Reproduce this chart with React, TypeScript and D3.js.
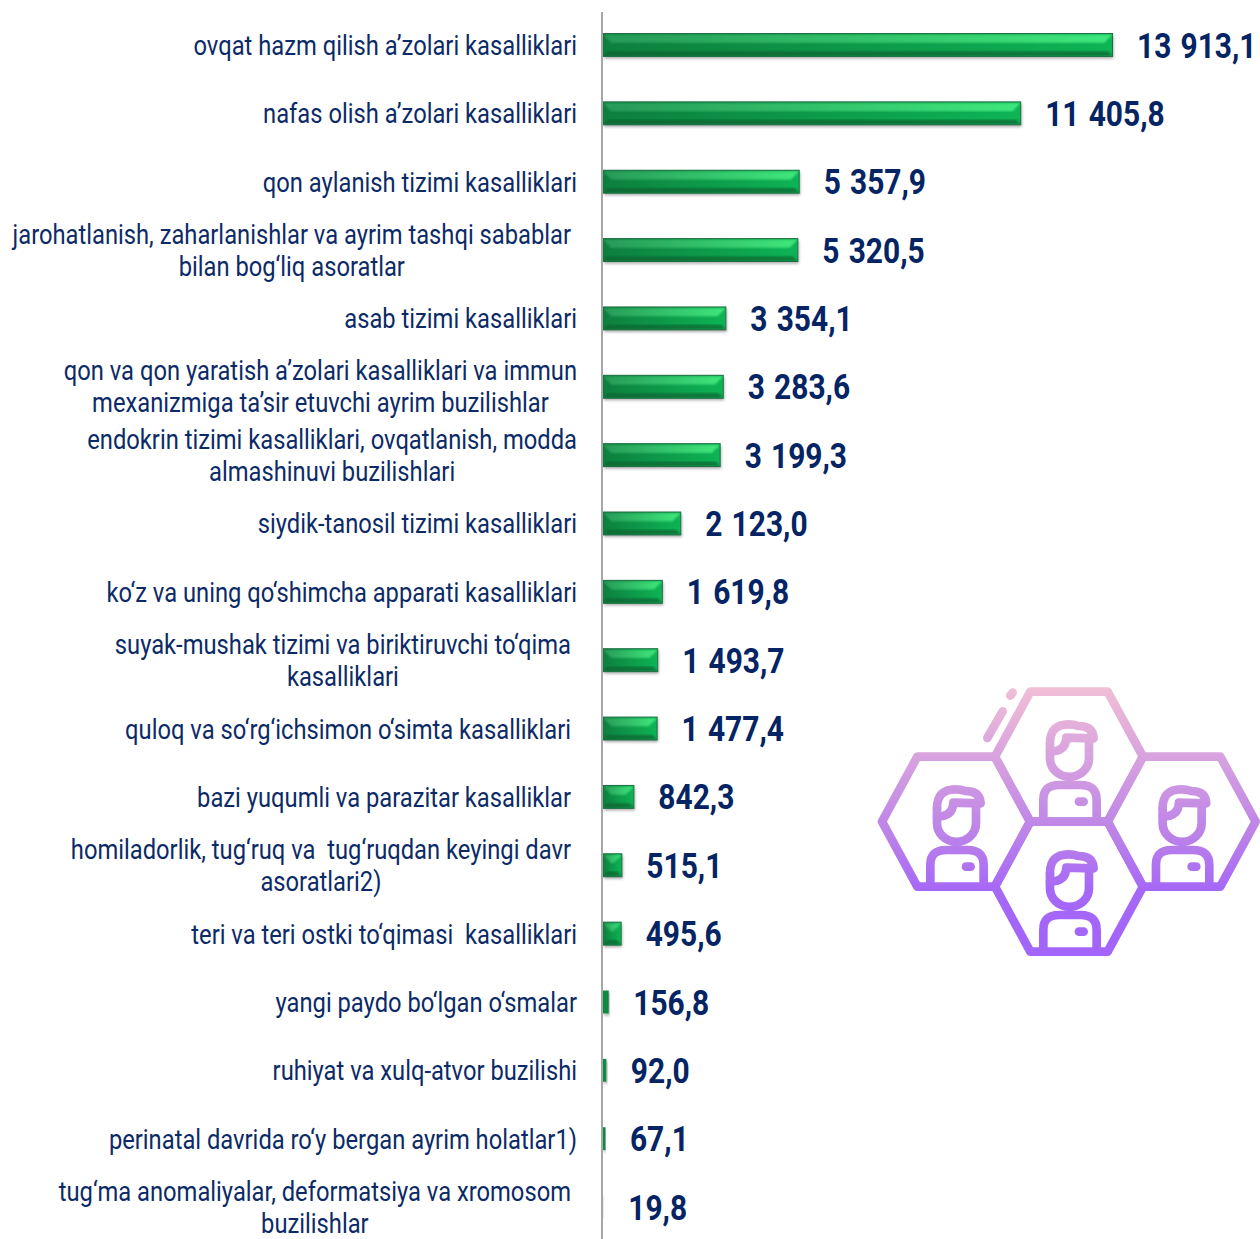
import * as d3 from "d3";
import { useEffect, useRef } from "react";

const labels: string[][] = [
  ["ovqat hazm qilish a’zolari kasalliklari"],
  ["nafas olish a’zolari kasalliklari"],
  ["qon aylanish tizimi kasalliklari"],
  ["jarohatlanish, zaharlanishlar va ayrim tashqi sabablar", "bilan bog‘liq asoratlar"],
  ["asab tizimi kasalliklari"],
  ["qon va qon yaratish a’zolari kasalliklari va immun", "mexanizmiga ta’sir etuvchi ayrim buzilishlar"],
  ["endokrin tizimi kasalliklari, ovqatlanish, modda", "almashinuvi buzilishlari"],
  ["siydik-tanosil tizimi kasalliklari"],
  ["ko‘z va uning qo‘shimcha apparati kasalliklari"],
  ["suyak-mushak tizimi va biriktiruvchi to‘qima", "kasalliklari"],
  ["quloq va so‘rg‘ichsimon o‘simta kasalliklari"],
  ["bazi yuqumli va parazitar kasalliklar"],
  ["homiladorlik, tug‘ruq va  tug‘ruqdan keyingi davr", "asoratlari2)"],
  ["teri va teri ostki to‘qimasi  kasalliklari"],
  ["yangi paydo bo‘lgan o‘smalar"],
  ["ruhiyat va xulq-atvor buzilishi"],
  ["perinatal davrida ro‘y bergan ayrim holatlar1)"],
  ["tug‘ma anomaliyalar, deformatsiya va xromosom", "buzilishlar"],
];
const values = [
  13913.1, 11405.8, 5357.9, 5320.5, 3354.1, 3283.6, 3199.3, 2123.0, 1619.8,
  1493.7, 1477.4, 842.3, 515.1, 495.6, 156.8, 92.0, 67.1, 19.8,
];
// these labels had a trailing space in the source, so they sit a little further left
const indentedLabels = [3, 9, 10, 11, 12, 17];

const textColor = "#0b2a66";
const fmt = (v: number) => d3.format(",.1f")(v).replace(/,/g, "\u2009\u200a").replace(".", ",");

// icon geometry, in 3x zoomed pixels around a hexagon centre
const hexCentres = [[597, 230], [258, 425], [935, 425], [597, 620]];
const hexPath = "M-222,0 L-116,-195 L116,-195 L222,0 L116,195 L-116,195 Z";
const hairPath = "M-57,-40 Q-57,-97 -2,-97 Q15,-97 28,-92 Q72,-92 74,-55 L-8,-57 Q-10,-15 -57,-15";
const bodyPath = "M-77,190 L-77,130 Q-77,85 -30,85 L35,85 Q83,85 83,130 L83,190";
const pocketPath = "M30,135 L44,135";

const App = () => {
  const ref = useRef<SVGSVGElement>(null);

  useEffect(() => {
    const svg = d3.select(ref.current);
    svg.selectAll("*").remove();

    const x = d3.scaleLinear().domain([0, 13913.1]).range([603, 1112.5]);
    const y = d3
      .scaleBand<number>()
      .domain(d3.range(values.length))
      .range([10.8, 1241.2])
      .paddingInner(0.665)
      .paddingOuter(0.3325);

    const defs = svg.append("defs");
    const body = defs.append("linearGradient").attr("id", "barBody");
    body.append("stop").attr("offset", 0).attr("stop-color", "#0e7f3e");
    body.append("stop").attr("offset", 1).attr("stop-color", "#10b455");
    const shine = defs.append("linearGradient").attr("id", "barShine");
    shine.append("stop").attr("offset", 0).attr("stop-color", "#279a58");
    shine.append("stop").attr("offset", 1).attr("stop-color", "#3fe87c");
    defs.append("filter").attr("id", "barShadow").attr("x", "-20%").attr("y", "-30%").attr("width", "140%").attr("height", "170%")
      .append("feDropShadow").attr("dx", 1).attr("dy", 2).attr("stdDeviation", 1.8).attr("flood-color", "#000").attr("flood-opacity", 0.35);
    defs.append("filter").attr("id", "soft").append("feGaussianBlur").attr("stdDeviation", 1);
    const iconFade = defs.append("linearGradient").attr("id", "iconFade").attr("gradientUnits", "userSpaceOnUse")
      .attr("x1", 0).attr("x2", 0).attr("y1", 22).attr("y2", 830);
    iconFade.append("stop").attr("offset", 0).attr("stop-color", "#f1bfd6");
    iconFade.append("stop").attr("offset", 0.55).attr("stop-color", "#bb82e8");
    iconFade.append("stop").attr("offset", 0.75).attr("stop-color", "#a668f6");
    iconFade.append("stop").attr("offset", 1).attr("stop-color", "#a264fa");

    const bars = svg.append("g").selectAll("g").data(values).join("g");
    bars.append("rect")
      .attr("x", x(0))
      .attr("y", (_, i) => y(i)!)
      .attr("width", (d) => x(d) - x(0))
      .attr("height", y.bandwidth())
      .attr("fill", (d) => (x(d) - x(0) > 8 ? "url(#barBody)" : "#0f8a40"))
      .attr("opacity", (d) => (x(d) - x(0) < 1 ? 0.15 : 1))
      .attr("filter", "url(#barShadow)");

    // bars too narrow to show a bevel stay flat
    const bevelled = bars.filter((d) => x(d) - x(0) > 8);
    // lit top face, with the mitred corners of the bevel
    bevelled.append("path")
      .attr("d", (d) => {
        const i = values.indexOf(d);
        const x0 = x(0), x1 = x(d), top = y(i)! + 1, h = y.bandwidth() * 0.36;
        const bevel = Math.min(h, (x1 - x0) / 2);
        return `M${x0},${top} L${x1},${top} L${x1 - bevel},${top + h} L${x0 + bevel},${top + h} Z`;
      })
      .attr("fill", "url(#barShine)")
      .attr("filter", "url(#soft)");
    // dark lower face
    bevelled.append("path")
      .attr("d", (d) => {
        const i = values.indexOf(d);
        const x0 = x(0), x1 = x(d), bottom = y(i)! + y.bandwidth() - 0.5, h = y.bandwidth() * 0.2;
        const bevel = Math.min(h, (x1 - x0) / 2);
        return `M${x0},${bottom} L${x1},${bottom} L${x1 - bevel},${bottom - h} L${x0 + bevel},${bottom - h} Z`;
      })
      .attr("fill", "#0a6430")
      .attr("opacity", 0.75)
      .attr("filter", "url(#soft)");
    bevelled.append("rect")
      .attr("x", x(0))
      .attr("y", (d) => y(values.indexOf(d))!)
      .attr("width", (d) => x(d) - x(0))
      .attr("height", y.bandwidth())
      .attr("fill", "none")
      .attr("stroke", "#1d6f43")
      .attr("stroke-width", 1);

    svg.append("line")
      .attr("x1", 602).attr("x2", 602).attr("y1", 12).attr("y2", 1239)
      .attr("stroke", "#a6a6a6").attr("stroke-width", 2);

    const squeeze = 0.86;
    labels.forEach((lines, i) => {
      const cy = y(i)! + y.bandwidth() / 2;
      const right = indentedLabels.includes(i) ? 571 : 577;
      const g = svg.append("g").attr("transform", `scale(${squeeze},1)`);
      const texts = lines.map((line, k) =>
        g.append("text")
          .attr("y", cy + 10 + (k - (lines.length - 1) / 2) * 32 - (lines.length - 1) * 0.5)
          .attr("font-family", "Roboto")
          .attr("font-size", 27.6)
          .attr("fill", textColor)
          .attr("text-anchor", "middle")
          .attr("xml:space", "preserve")
          .text(line)
      );
      const widest = d3.max(texts, (t) => (t.node() as SVGTextElement).getComputedTextLength()) ?? 0;
      texts.forEach((t) => t.attr("x", right / squeeze - widest / 2));
    });

    svg.append("g").selectAll("text").data(values).join("text")
      .attr("transform", (d, i) => `translate(${x(d) + 24.5},${y(i)! + y.bandwidth() / 2 + 12.6}) scale(0.855,1)`)
      .attr("font-family", "Roboto")
      .attr("font-weight", 700)
      .attr("font-size", 35)
      .attr("fill", "#042463")
      .text((d) => fmt(d));

    const icon = svg.append("g")
      .attr("transform", "translate(870,680) scale(0.3333)")
      .append("g")
      .attr("fill", "none")
      .attr("stroke", "url(#iconFade)")
      .attr("stroke-width", 26)
      .attr("stroke-linecap", "round")
      .attr("stroke-linejoin", "round");
    hexCentres.forEach(([cx, cy]) => {
      // shifted to absolute coordinates so the shared gradient runs over the whole icon
      const shift = (p: string) => p.replace(/(-?\d+),(-?\d+)/g, (_, a, b) => `${+a + cx},${+b + cy}`);
      icon.append("path").attr("d", shift(hexPath));
      icon.append("path").attr("d", shift(hairPath));
      icon.append("path").attr("d", `M${-57 + cx},${-40 + cy} L${-57 + cx},${5 + cy} A58,55 0 0 0 ${60 + cx},${5 + cy} L${60 + cx},${-55 + cy}`);
      icon.append("path").attr("d", shift(bodyPath));
      icon.append("path").attr("d", shift(pocketPath));
    });
    icon.append("path").attr("d", "M352,174 L398,94");
    icon.append("path").attr("d", "M421,47 L428,38");
  }, []);

  return (
    <svg
      ref={ref}
      width={1260}
      height={1239}
      style={{ position: "absolute", left: 0, top: 0, background: "#fff" }}
    />
  );
};

export default App;
